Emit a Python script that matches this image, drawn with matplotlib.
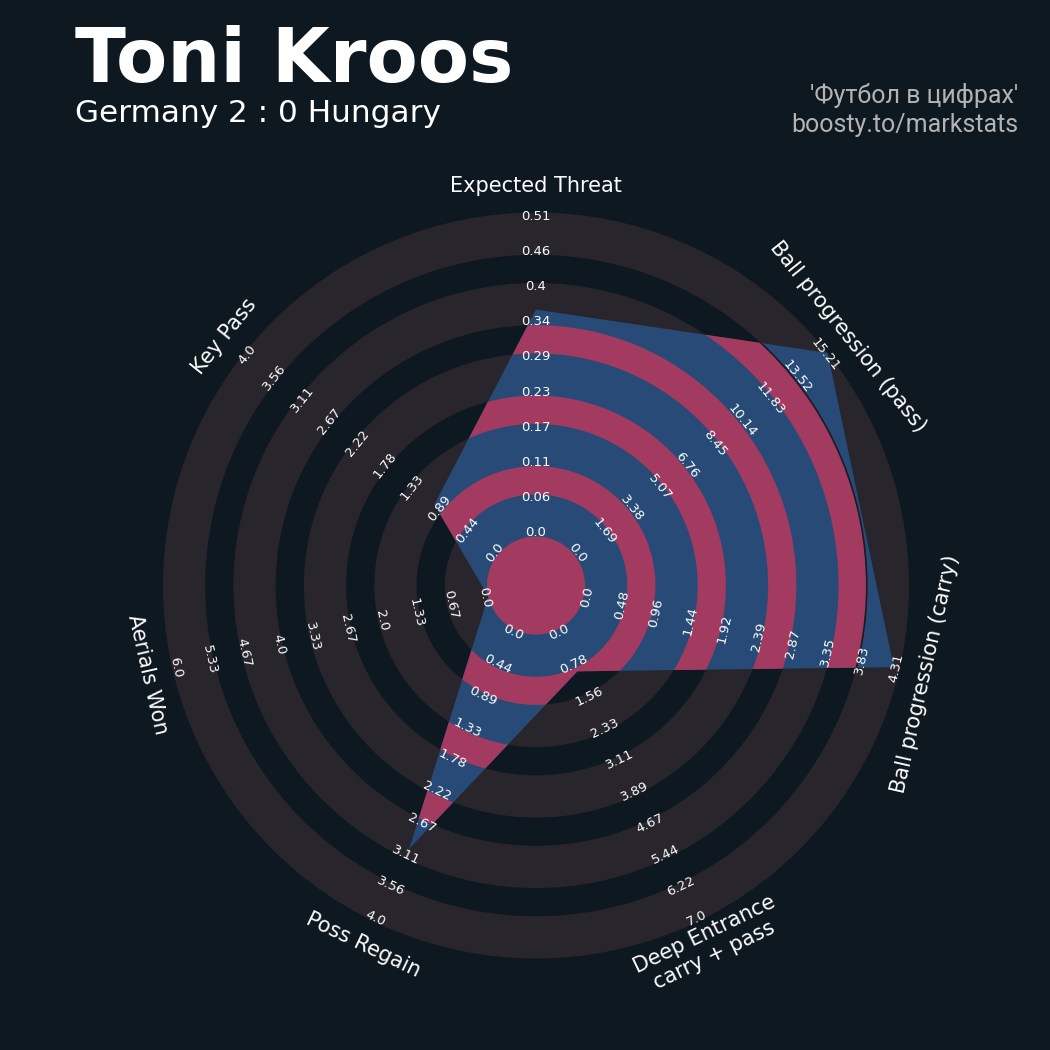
import numpy as np
import matplotlib.pyplot as plt
from matplotlib.patches import Wedge, Circle, Polygon

# data
params = ['Expected Threat', 'Ball progression (pass)', 'Ball progression (carry)',
          'Deep Entrance\ncarry + pass', 'Poss Regain', 'Aerials Won', 'Key Pass']
values = [0.36, 15.21, 4.23, 1, 3, 0, 1]
low = [0, 0, 0, 0, 0, 0, 0]
high = [0.514, 15.21, 4.31, 7.0, 4.0, 6.0, 4.0]

title = 'Toni Kroos'
subtitle = 'Germany 2 : 0 Hungary'
credit = ["'Футбол в цифрах'", 'boosty.to/markstats']

# colours
bg = '#0e1821'
ring_col = '#28252c'
radar_col = '#274b76'
radar_ring_col = '#a33b60'
text_col = '#fcfcfc'
credit_col = '#b3b3b3'

# geometry, in pixels of the 1050px figure
cx, cy = 536, 585.5
r_min, r_max = 49, 373
label_r = np.linspace(52.5, 369.5, 10)
pad = 3.5
param_r = 399


def tangent_rot(theta):
    rot = (theta - 90 + 180) % 360 - 180
    if rot < -90:
        rot += 180
    elif rot > 90:
        rot -= 180
    return rot


fig = plt.figure(figsize=(10.5, 10.5), dpi=100)
fig.patch.set_facecolor(bg)
ax = fig.add_axes([0, 0, 1, 1])
ax.set_facecolor(bg)
ax.set_xlim(-cx, 1050 - cx)
ax.set_ylim(-(1050 - cy), cy)
ax.axis('off')

n = len(params)
thetas = 90 - np.arange(n) * 360 / n

# background rings
for j in range(5):
    outer = label_r[2 * j + 1] + pad
    inner = label_r[2 * j] - pad
    ax.add_patch(Wedge((0, 0), outer, 0, 360, width=outer - inner,
                       fc=ring_col, ec='none', zorder=1))

# radar polygon
radii = [r_min + (v - lo) / (hi - lo) * (r_max - r_min) for v, lo, hi in zip(values, low, high)]
rad = np.deg2rad(thetas)
verts = np.column_stack([np.array(radii) * np.cos(rad), np.array(radii) * np.sin(rad)])
poly = Polygon(verts, closed=True, fc=radar_col, ec='none', zorder=2)
ax.add_patch(poly)

# rings inside the radar
inner_patches = [Circle((0, 0), label_r[0] - pad)]
for j in range(4):
    outer = label_r[2 * j + 2] - pad
    inner = label_r[2 * j + 1] + pad
    inner_patches.append(Wedge((0, 0), outer, 0, 360, width=outer - inner))
for p in inner_patches:
    p.set_facecolor(radar_ring_col)
    p.set_edgecolor('none')
    p.set_zorder(3)
    ax.add_patch(p)
    p.set_clip_path(poly)
edge = Circle((0, 0), label_r[8] - pad, fc='none', ec='#1b1a24', lw=1.2, zorder=3.5)
ax.add_patch(edge)
edge.set_clip_path(poly)

# range labels
for i in range(n):
    rot = tangent_rot(thetas[i])
    for k, r in enumerate(label_r):
        val = low[i] + k * (high[i] - low[i]) / 9
        ax.text(r * np.cos(rad[i]), r * np.sin(rad[i]), str(round(val, 2)),
                rotation=rot, rotation_mode='anchor', ha='center', va='center',
                fontsize=9.5, color=text_col, zorder=5)
    ax.text(param_r * np.cos(rad[i]), param_r * np.sin(rad[i]), params[i],
            rotation=rot, rotation_mode='anchor', ha='center', va='center',
            multialignment='center', fontsize=15, color=text_col, zorder=5)

# titles
fig.text(75 / 1050, 1 - 82 / 1050, title, fontsize=53.7, weight='bold',
         color='white', ha='left', va='baseline')
fig.text(75 / 1050, 1 - 122 / 1050, subtitle, fontsize=22.4,
         color='white', ha='left', va='baseline')
fig.text(1018 / 1050, 1 - 103.5 / 1050, credit[0], fontsize=18, family='Roboto',
         color=credit_col, ha='right', va='baseline')
fig.text(1018 / 1050, 1 - 132 / 1050, credit[1], fontsize=18, family='Roboto',
         color=credit_col, ha='right', va='baseline')

fig.savefig('out.png', facecolor=bg)
